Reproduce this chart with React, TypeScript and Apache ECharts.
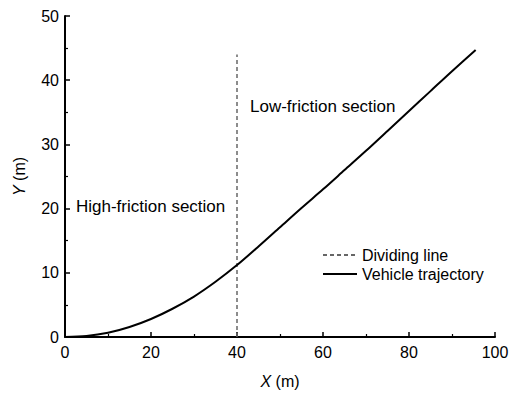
import React, { useEffect, useRef } from "react";
import * as echarts from "echarts";

const trajX = [0, 5, 10, 15, 20, 25, 30, 35, 40, 45, 50, 55, 60, 65, 70, 75, 80, 85, 90, 95.5];
const trajY = [0, 0.15, 0.65, 1.55, 2.8, 4.4, 6.3, 8.6, 11.2, 14.1, 17.1, 20.1, 23.0, 26.0, 29.0, 32.1, 35.2, 38.3, 41.4, 44.7];
const dividerX = [40, 40];
const dividerY = [0, 44];
const seriesNames = ["Dividing line", "Vehicle trajectory"];
const sectionLabels = ["High-friction section", "Low-friction section"];

const FONT = "Liberation Sans, Arial, sans-serif";
const FS = 16;

export default function App() {
  const ref = useRef<HTMLDivElement>(null);
  useEffect(() => {
    if (!ref.current) return;
    const chart = echarts.init(ref.current, undefined, { renderer: "svg" });
    const nameStyle = {
      fontFamily: FONT,
      fontSize: FS,
      color: "#000",
      rich: { i: { fontStyle: "italic", fontFamily: FONT, fontSize: FS, color: "#000" } },
    };
    chart.setOption({
      animation: false,
      backgroundColor: "#ffffff",
      textStyle: { fontFamily: FONT },
      grid: { left: 65, right: 19, top: 16, bottom: 59, containLabel: false },
      legend: {
        orient: "vertical",
        left: 317,
        top: 242,
        itemWidth: 34,
        itemHeight: 14,
        itemGap: 3,
        itemStyle: { opacity: 0 },
        textStyle: { fontFamily: FONT, fontSize: FS, color: "#000" },
        data: seriesNames,
      },
      xAxis: {
        type: "value",
        min: 0,
        max: 100,
        interval: 20,
        name: "{i|X} (m)",
        nameLocation: "middle",
        nameGap: 36,
        nameTextStyle: nameStyle,
        axisLine: { show: true, onZero: false, lineStyle: { color: "#000", width: 2 } },
        axisTick: { show: true, inside: true, length: 5, lineStyle: { color: "#000", width: 1.5 } },
        minorTick: { show: true, splitNumber: 2, length: 3, lineStyle: { color: "#000", width: 1.2 } },
        axisLabel: { color: "#000", fontSize: FS, margin: 7, fontFamily: FONT },
        splitLine: { show: false },
      },
      yAxis: {
        type: "value",
        min: 0,
        max: 50,
        interval: 10,
        name: "{i|Y} (m)",
        nameLocation: "middle",
        nameGap: 38,
        nameTextStyle: nameStyle,
        axisLine: { show: true, onZero: false, lineStyle: { color: "#000", width: 2 } },
        axisTick: { show: true, inside: true, length: 5, lineStyle: { color: "#000", width: 1.5 } },
        minorTick: { show: true, splitNumber: 2, length: 3, lineStyle: { color: "#000", width: 1.2 } },
        axisLabel: { color: "#000", fontSize: FS, margin: 6, fontFamily: FONT },
        splitLine: { show: false },
      },
      series: [
        {
          name: seriesNames[0],
          type: "line",
          data: dividerX.map((x, i) => [x, dividerY[i]]),
          symbol: "none",
          lineStyle: { color: "#666", width: 1.5, type: [4, 3] },
          itemStyle: { color: "#666" },
        },
        {
          name: seriesNames[1],
          type: "line",
          data: trajX.map((x, i) => [x, trajY[i]]),
          symbol: "none",
          smooth: 0.3,
          lineStyle: { color: "#000", width: 2 },
          itemStyle: { color: "#000" },
        },
      ],
      graphic: [
        {
          type: "text",
          left: 76,
          top: 198,
          style: { text: sectionLabels[0], font: `17px ${FONT}`, fill: "#000" },
        },
        {
          type: "text",
          left: 250,
          top: 98,
          style: { text: sectionLabels[1], font: `17px ${FONT}`, fill: "#000" },
        },
      ],
    });
    return () => chart.dispose();
  }, []);
  return <div ref={ref} style={{ width: 514, height: 396, position: "absolute", left: 0, top: 0 }} />;
}
